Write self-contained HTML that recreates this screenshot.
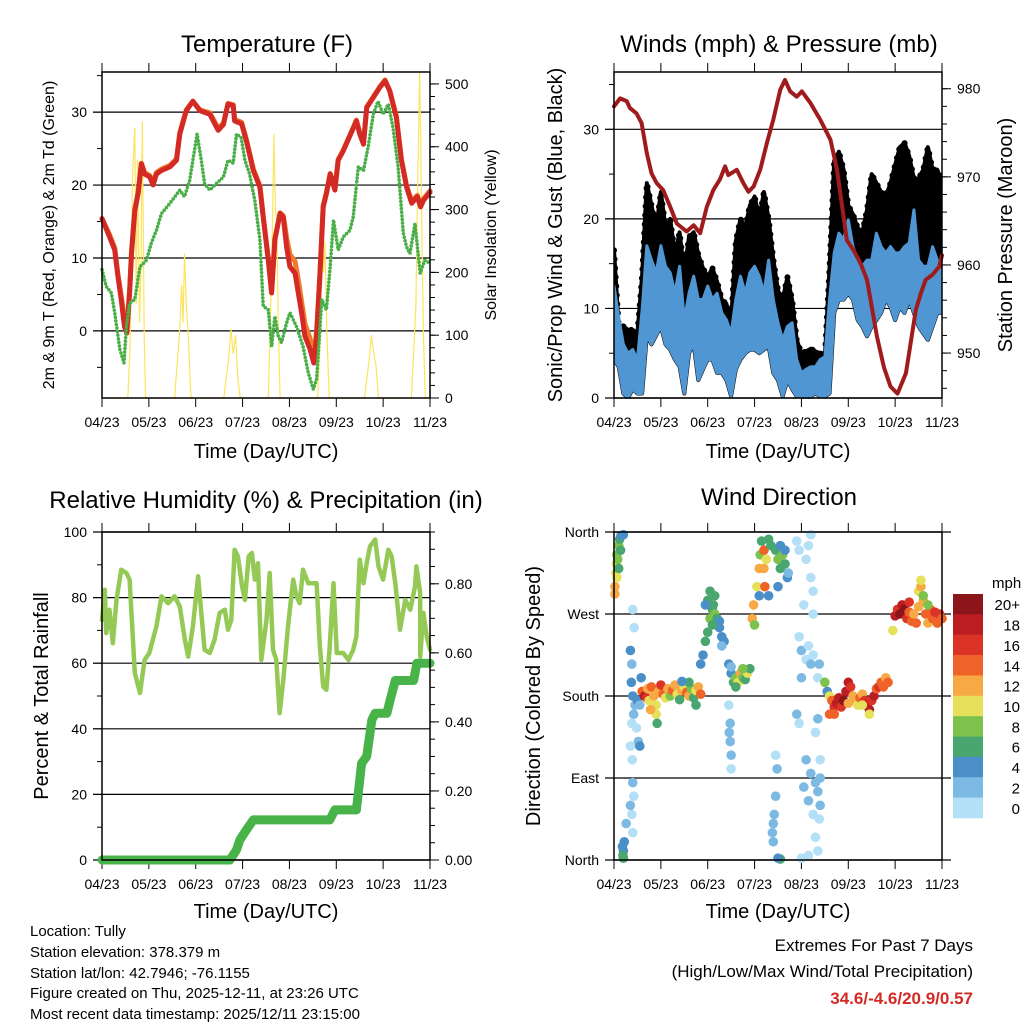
<!DOCTYPE html>
<html><head><meta charset="utf-8"><style>
html,body{margin:0;padding:0;background:#fff;}
svg{display:block;font-family:"Liberation Sans",Arial,sans-serif;}
</style></head><body>
<svg id="fig" width="1024" height="1024" viewBox="0 0 1024 1024" xmlns="http://www.w3.org/2000/svg">
<rect x="0" y="0" width="1024" height="1024" fill="#fff"/>
<g font-size="24" text-anchor="middle" fill="#000">
<text x="267" y="52">Temperature (F)</text>
<text x="779" y="52">Winds (mph) &amp; Pressure (mb)</text>
<text x="266" y="508">Relative Humidity (%) &amp; Precipitation (in)</text>
<text x="779" y="505">Wind Direction</text>
</g>
<g font-size="20" text-anchor="middle">
<text x="266" y="458">Time (Day/UTC)</text>
<text x="778" y="458">Time (Day/UTC)</text>
<text x="266" y="918">Time (Day/UTC)</text>
<text x="778" y="918">Time (Day/UTC)</text>
<text transform="translate(54,235) rotate(-90)" font-size="16">2m &amp; 9m T (Red, Orange) &amp; 2m Td (Green)</text>
<text transform="translate(496,235) rotate(-90)" font-size="16">Solar Insolation (Yellow)</text>
<text transform="translate(562,235) rotate(-90)">Sonic/Prop Wind &amp; Gust (Blue, Black)</text>
<text transform="translate(1012,235) rotate(-90)">Station Pressure (Maroon)</text>
<text transform="translate(48,696) rotate(-90)">Percent &amp; Total Rainfall</text>
<text transform="translate(540,696) rotate(-90)">Direction (Colored By Speed)</text>
</g>
<g font-size="15">
<text x="30" y="936">Location: Tully</text>
<text x="30" y="957">Station elevation: 378.379 m</text>
<text x="30" y="978">Station lat/lon: 42.7946; -76.1155</text>
<text x="30" y="998">Figure created on Thu, 2025-12-11, at 23:26 UTC</text>
<text x="30" y="1019">Most recent data timestamp: 2025/12/11 23:15:00</text>
</g>
<g font-size="17" text-anchor="end">
<text x="973" y="951">Extremes For Past 7 Days</text>
<text x="973" y="977">(High/Low/Max Wind/Total Precipitation)</text>
<text x="973" y="1004" fill="#d42a26" font-weight="bold">34.6/-4.6/20.9/0.57</text>
</g>
</svg>
<script>
// ---------- data ----------
const xTickLabels = ['04/23','05/23','06/23','07/23','08/23','09/23','10/23','11/23'];
const tempTimes = [0,0.16,0.27,0.34,0.41,0.48,0.53,0.59,0.63,0.7,0.77,0.84,0.91,1.02,1.09,1.16,1.27,1.45,1.59,1.66,1.8,1.94,2.09,2.3,2.48,2.59,2.69,2.8,2.83,2.98,3.08,3.23,3.37,3.44,3.55,3.62,3.69,3.8,3.87,3.94,4.01,4.12,4.19,4.26,4.33,4.44,4.52,4.58,4.65,4.72,4.79,4.87,4.97,5.04,5.15,5.37,5.43,5.5,5.58,5.65,5.79,5.93,6.04,6.14,6.21,6.28,6.39,6.5,6.61,6.73,6.8,6.86,7];
const tempRed = [15.4,12.9,11.1,7.5,4.3,0.6,-0.3,5.2,10.6,16.5,18.8,22.9,21.5,21.1,20,21.5,22,22.5,23.4,27,30.2,31.5,30.2,29.7,27.5,28.3,31.1,30.9,28.8,28.4,26.1,22,19.7,15.6,9.7,5.2,12.5,16.1,15.6,11.5,8.8,7.9,5.2,2.5,-0.7,-2.5,-4.4,-0.7,7.5,17,18.8,21.5,19.3,23.4,24.7,27.9,28.8,27,25.6,30.6,32,33.4,34.3,32.9,31.1,29.3,23.4,19.7,17.5,18.4,17,17.9,19];
const tempOrange = [15.4,13.2,11.4,7.8,4.8,1.5,0.3,5.5,10.8,16.7,19,23,21.7,21.3,20.3,21.7,22.2,22.7,23.6,27.2,30.3,31.5,30.3,29.9,27.8,28.5,31.2,31,29,28.6,26.3,22.2,19.9,15.8,9.9,5.5,12.7,16.2,15.8,12.8,10.5,9.5,7,4,1,-1,-3.5,0,7.8,17.2,19,21.6,19.5,23.5,24.8,28,28.9,27.2,25.8,30.7,32.1,33.5,34.4,33,31.2,29.5,23.6,19.9,17.8,18.6,17.3,18.1,19.2];
const dewTimes = [0,0.09,0.2,0.27,0.38,0.47,0.52,0.59,0.7,0.81,0.95,1.05,1.16,1.27,1.45,1.66,1.76,1.87,1.94,2.03,2.12,2.19,2.3,2.44,2.59,2.69,2.8,2.87,2.97,3.05,3.15,3.26,3.37,3.44,3.55,3.62,3.69,3.76,3.83,3.94,4.01,4.15,4.29,4.4,4.51,4.58,4.69,4.79,4.87,4.94,5.04,5.15,5.29,5.36,5.47,5.58,5.68,5.79,5.89,6.0,6.11,6.21,6.32,6.43,6.5,6.57,6.68,6.79,6.89,7];
const dewGreen = [8.4,6.1,5.2,2.5,-2.5,-4.4,0.6,3.8,4.3,8.8,9.7,12,13.8,16.1,17.5,19.3,18.4,20.6,23.4,27,23.4,20.2,19.3,20.2,21.1,23.4,23,27,26.5,23.4,21.5,17.9,12.5,3.4,2.9,-2.1,2,-0.7,-1.6,1.1,2.5,0.6,-2.1,-5.7,-8,-6.6,4.3,2.9,8.8,15.2,11.1,12.9,13.8,15.6,22.5,22,25.2,29.7,31.5,29.7,31.1,27.9,22.5,13.4,11.5,10.6,14.7,7.9,9.7,9.3];
const solarTimes = [0,0.55,0.6,0.65,0.7,0.73,0.76,0.8,0.83,0.86,0.9,0.93,1.55,1.65,1.7,1.73,1.76,1.8,1.84,1.9,2.6,2.7,2.75,2.8,2.85,2.9,2.95,3.55,3.62,3.67,3.7,3.73,3.76,3.8,4.6,4.66,4.7,4.73,4.76,4.8,4.85,5.6,5.7,5.75,5.8,5.85,5.9,6.6,6.65,6.7,6.75,6.78,6.82,6.86,6.9,7];
const solarVals = [0,0,80,350,430,150,380,120,200,440,100,0,0,100,180,120,230,150,100,0,0,60,110,70,100,30,0,0,200,420,300,280,120,0,0,100,300,200,250,100,0,0,60,100,70,50,0,0,70,150,400,520,300,100,0,0];

const pressTimes = [0,0.13,0.27,0.34,0.48,0.59,0.7,0.8,0.91,1.05,1.2,1.34,1.55,1.7,1.84,1.98,2.12,2.26,2.37,2.44,2.62,2.76,2.87,2.98,3.12,3.26,3.4,3.55,3.65,3.76,3.9,4.01,4.19,4.4,4.62,4.76,4.86,4.97,5.11,5.26,5.4,5.5,5.61,5.76,5.9,6.05,6.23,6.33,6.44,6.55,6.65,6.8,6.94,7.0];
const pressVals = [978,978.9,978.6,977.8,977.2,976.1,972.7,970.4,969.3,968.5,966.6,964.7,963.8,964.5,963.6,966.6,968.5,969.7,971.2,970.2,970.8,969.3,968.3,968.9,970.8,973.8,976.5,979.9,981,979.7,979.1,979.7,978.4,976.5,974.2,970.8,967,962.8,961.7,960.2,958.3,955.3,951.9,948.4,946.2,945.4,947.7,951.1,954.9,956.8,958.3,958.9,959.8,961.1];
const windTimes = [0,0.1,0.2,0.3,0.4,0.5,0.6,0.7,0.8,0.9,1.0,1.1,1.2,1.3,1.4,1.5,1.6,1.7,1.8,1.9,2.0,2.1,2.2,2.3,2.4,2.5,2.6,2.7,2.8,2.9,3.0,3.1,3.2,3.3,3.4,3.5,3.6,3.7,3.8,3.9,4.0,4.1,4.2,4.3,4.4,4.5,4.6,4.7,4.8,4.9,5.0,5.1,5.2,5.3,5.4,5.5,5.6,5.7,5.8,5.9,6.0,6.1,6.2,6.3,6.4,6.5,6.6,6.7,6.8,6.9,7.0];
const windHi = [12.5,9,6,5,5.4,4.3,9.8,17,15.4,14,17,14.7,14,11.7,14.7,8.7,11.7,13.6,11,11,12.5,11,11.7,9.5,8.7,7.2,11,13.6,11.7,14,14.7,13.6,11.7,15.4,11,8.4,6.5,8,8.4,4.3,2.8,3.2,3.5,3.5,4.3,4.6,11,16.2,18.4,17.7,19.9,16.9,15.4,14.7,15.4,15.4,18.4,16.9,16.2,16.9,16.2,16.2,16.9,17.3,21,15.4,14.7,14.7,16.9,15.4,13.6];
const windLo = [4.3,3.5,0.5,0,1,0.5,0.5,7,6,7,8,6,5.4,4.3,3.5,0.5,5,6,2,3.2,4.3,4.3,2.8,2.8,2,0.2,3.2,4.3,5,5.4,5.4,5,5.4,5.8,2.8,2,0.2,2,1,0.2,0.2,0,0.2,0.5,0.2,0.2,0.5,9.5,11,11,11.7,11,8.7,8,6.9,8,8.7,9.5,11,10.2,8.7,10.2,9.5,11,9.5,8,7.2,6.5,8,9.5,9.5];
const gustHi = [16.5,8,8,7.6,7.6,7.2,13.6,24,21.5,19,23,19,20,16,18.5,14,18,18.5,16,14.5,13.5,14.5,13,11,10.5,8.5,17.5,20,19,21.5,22.5,20,23,20,15.5,12,11,13.5,11,6.5,5,5.2,5.5,5.2,5,4.6,14.5,26.5,27.5,25.5,21.5,20.5,19,18.5,21,25,24,23,22.5,24,26,28,28.5,27,24.5,24.5,25.5,28,25.5,25.5,24];

const rhTimes = [0,0.06,0.09,0.16,0.23,0.31,0.41,0.52,0.59,0.7,0.81,0.91,1.01,1.16,1.27,1.41,1.55,1.66,1.77,1.84,1.94,2.05,2.12,2.19,2.3,2.4,2.51,2.62,2.69,2.76,2.83,2.9,2.99,3.05,3.13,3.2,3.26,3.33,3.4,3.51,3.58,3.65,3.72,3.79,3.87,3.97,4.08,4.15,4.22,4.29,4.4,4.58,4.65,4.72,4.79,4.86,4.94,5.01,5.15,5.26,5.36,5.43,5.5,5.58,5.65,5.72,5.83,5.9,6.0,6.11,6.18,6.26,6.36,6.47,6.58,6.68,6.71,6.79,6.79,6.86,6.93,7];
const rhVals = [73.2,82.4,69.2,76.3,66.1,79.3,88.5,87.5,85.5,57,50.9,61,63.1,71.2,80.4,78.3,80.4,77.3,67.1,62,71.2,86.5,75.3,64.1,63.1,67.1,75.3,76.3,70.2,73.2,94.6,92.6,83.4,79.3,92.6,93.6,85.5,90.5,61,73.2,87.5,64.1,61,44.8,54.9,71.2,85.5,80.4,78.3,88.5,84.4,84.4,65.1,52.9,51.9,65.1,84.4,63.1,63.1,61,64.1,68.2,91.6,84.4,90.5,95.6,97.7,89.5,85.5,94.6,92.6,84.4,70.2,79.3,76.3,83.4,89.5,81.4,62,75.3,68.2,64.1];
const precipTimes = [0,2.73,2.87,2.94,3.08,3.23,4.86,4.97,5.43,5.54,5.65,5.76,5.83,6.08,6.15,6.26,6.65,6.72,7.0];
const precipVals = [0,0,0.029,0.058,0.087,0.116,0.116,0.145,0.145,0.28,0.3,0.406,0.425,0.425,0.464,0.52,0.52,0.57,0.57];

const dirTimes = [0.02,0.02,0.04,0.05,0.06,0.1,0.12,0.15,0.2,0.08,0.1,0.14,0.06,
0.4,0.43,0.35,0.38,0.37,0.4,0.45,0.42,0.38,0.5,0.55,0.52,0.48,0.35,0.39,0.4,0.42,0.38,0.26,0.22,0.18,0.2,0.19,0.2,0.55,0.58,0.35,0.4,
0.6,0.65,0.7,0.72,0.75,0.8,0.85,0.9,0.9,0.95,1.0,1.05,1.1,1.15,1.2,1.25,1.3,1.35,1.4,1.45,1.5,1.55,1.6,1.65,1.7,1.75,1.8,1.85,1.75,1.6,0.92,1.45,0.78,
1.85,1.9,1.95,2.0,2.05,2.1,2.12,2.15,2.2,2.25,2.3,2.35,2.05,2.0,2.15,2.25,2.3,1.95,2.1,
2.45,2.5,2.55,2.6,2.65,2.7,2.75,2.8,2.85,2.9,2.6,2.75,2.5,2.45,2.48,2.48,2.5,2.5,2.46,
2.95,3.0,2.98,3.05,3.1,3.12,3.15,3.2,3.2,3.25,3.3,3.35,3.22,3.1,3.3,3.45,3.5,3.55,3.6,3.65,3.7,3.55,3.65,3.5,3.72,
3.45,3.48,3.45,3.42,3.4,3.38,3.4,3.55,3.5,3.9,3.95,4.2,4.15,4.2,4.25,4.1,4.05,4.25,4.0,3.95,4.1,4.15,4.2,4.0,4.25,4.38,4.35,4.1,4.2,4.05,4.3,4.35,4.15,4.4,4.25,4.38,4.3,4.35,4.15,4.0,4.4,4.4,3.9,3.95,4.3,4.35,
4.5,4.55,4.6,4.65,4.7,4.75,4.8,4.85,4.9,4.95,5.0,5.05,5.1,5.15,5.2,5.25,5.3,5.35,5.4,5.45,5.5,5.55,5.6,5.65,5.7,5.75,5.8,5.85,4.6,4.7,5.0,5.3,5.45,
6.0,6.05,6.1,6.15,6.2,6.25,6.3,6.35,6.4,6.45,6.5,6.5,6.55,6.6,6.65,6.7,6.75,6.8,6.85,6.9,6.95,7.0,6.6,6.7,5.95,6.3,6.55];
const dirDegrees = [300,292,315,325,335,345,352,356,357,330,320,340,310,
275,255,230,215,195,180,170,160,150,175,170,130,145,125,110,85,70,50,40,20,15,10,5,2,125,200,60,30,
185,180,178,188,175,190,180,170,160,185,192,182,178,188,180,186,192,182,176,186,190,184,180,188,178,186,190,182,170,195,150,196,165,
215,225,240,250,265,275,280,270,265,255,245,240,295,285,290,262,235,280,258,
215,205,195,200,195,205,200,198,205,210,190,210,212,170,150,130,115,100,140,
265,258,280,300,320,335,350,340,320,330,352,345,300,290,290,340,330,320,335,325,310,345,340,300,315,
115,100,70,50,40,30,20,1,2,350,340,357,345,310,295,330,280,270,230,245,220,235,215,200,225,215,200,110,95,80,85,75,65,60,50,45,25,10,5,2,110,90,160,150,140,155,
195,185,180,175,168,172,178,168,175,185,195,190,180,175,170,178,182,175,170,165,175,180,188,190,195,190,200,195,160,160,172,170,160,
268,275,270,280,275,265,272,262,270,260,278,295,300,285,270,260,275,265,272,260,270,265,290,280,252,283,307];
const dirSpeeds = [12,13,10,11,9,8,6,4,4,8,7,6,10,
1,1,4,3,4,4,3,2,1,4,3,2,1,1,1,2,1,1,3,4,4,4,6,6,4,4,2,1,
14,18,16,12,10,14,12,10,10,12,16,14,10,12,8,14,12,10,6,12,10,14,12,8,6,10,12,14,6,6,7,5,12,
4,4,6,6,8,7,7,8,6,5,4,4,6,6,6,4,3,5,6,
4,4,6,8,10,12,8,6,10,6,6,8,3,1,2,2,2,1,2,
12,8,12,10,12,8,6,14,12,10,6,6,14,4,4,6,8,6,8,6,4,4,4,4,2,
1,3,2,2,2,2,2,6,4,1,1,1,1,1,1,1,1,1,2,1,1,1,2,2,1,2,1,2,3,3,3,2,2,2,1,1,1,1,1,1,1,3,2,1,1,2,
8,4,10,14,16,18,18,16,20,18,18,16,12,12,10,14,12,16,18,18,16,18,14,16,14,14,12,14,14,14,12,10,10,
18,16,20,18,20,16,14,14,12,14,12,10,12,12,14,12,14,14,16,14,16,14,8,8,10,16,10];
const speedBinLabels = ['20+','18','16','14','12','10','8','6','4','2','0'];
const speedColors = ['#b3e0f6','#7cb9e3','#4a8fc8','#49a66e','#7cc24c','#e6e05a','#f6a944','#ef6328','#dc3327','#bb1d23','#8c1519'];

// ---------- helpers ----------
const NS = 'http://www.w3.org/2000/svg';
const svg = document.getElementById('fig');
function mk(tag, attrs, parent) {
  const e = document.createElementNS(NS, tag);
  for (const k in attrs) e.setAttribute(k, attrs[k]);
  (parent || svg).appendChild(e);
  return e;
}
function scaleLin(d0, d1, r0, r1) { return v => r0 + (v - d0) / (d1 - d0) * (r1 - r0); }
const P = {
  tl: {x0:102,x1:430,y0:72,y1:398},
  tr: {x0:614,x1:942,y0:72,y1:398},
  bl: {x0:102,x1:430,y0:532,y1:860},
  br: {x0:614,x1:942,y0:532,y1:860}
};
function xs(p) { return scaleLin(0, 7, p.x0, p.x1); }
function pathFrom(ts, vs, sx, sy) {
  let d = '';
  for (let i = 0; i < ts.length; i++) d += (i ? 'L' : 'M') + sx(ts[i]).toFixed(1) + ',' + sy(vs[i]).toFixed(1);
  return d;
}
function clip(id, p) {
  const c = mk('clipPath', {id: id});
  mk('rect', {x:p.x0, y:p.y0 - 1, width:p.x1 - p.x0, height:p.y1 - p.y0 + 2}, c);
  return 'url(#' + id + ')';
}

function frame(p, name, leftTicks, leftLabels, sy, leftMinor, rightTicks, rightLabels, sy2, rightMinor, grid) {
  const g = mk('g', {});
  
  
  const sx = xs(p);
  if (grid) leftTicks.forEach(v => {
    const y = sy(v);
    const l = mk('line', {x1:p.x0 - 9, x2:p.x1 + (grid === 'wide' ? 9 : 0), y1:y, y2:y, stroke:'#000', 'stroke-width':1.2}, g);
    
    
  });
  for (let i = 0; i < 8; i++) {
    const x = sx(i);
    mk('line', {x1:x, x2:x, y1:p.y0 - 9, y2:p.y0, stroke:'#000', 'stroke-width':1}, g);
    mk('line', {x1:x, x2:x, y1:p.y1, y2:p.y1 + 9, stroke:'#000', 'stroke-width':1}, g);
    const t = mk('text', {x:x, y:p.y1 + 29, 'font-size':14, 'text-anchor':'middle'}, g);
    t.textContent = xTickLabels[i];
    
    
  }
  leftTicks.forEach((v, i) => {
    const y = sy(v);
    mk('line', {x1:p.x0 - 9, x2:p.x0, y1:y, y2:y, stroke:'#000', 'stroke-width':1}, g);
    const t = mk('text', {x:p.x0 - 15, y:y + 5, 'font-size':14, 'text-anchor':'end'}, g);
    t.textContent = leftLabels[i];
    
    
  });
  (leftMinor || []).forEach(v => { const y = sy(v); mk('line', {x1:p.x0 - 5, x2:p.x0, y1:y, y2:y, stroke:'#000', 'stroke-width':1}, g); });
  if (rightTicks) {
    rightTicks.forEach((v, i) => {
      const y = sy2(v);
      mk('line', {x1:p.x1, x2:p.x1 + 9, y1:y, y2:y, stroke:'#000', 'stroke-width':1}, g);
      const t = mk('text', {x:p.x1 + 15, y:y + 5, 'font-size':14, 'text-anchor':'start'}, g);
      t.textContent = rightLabels[i];
      
      
    });
    (rightMinor || []).forEach(v => { const y = sy2(v); mk('line', {x1:p.x1, x2:p.x1 + 5, y1:y, y2:y, stroke:'#000', 'stroke-width':1}, g); });
  }
  return g;
}
function box(p, name) {
  const r = mk('rect', {x:p.x0, y:p.y0, width:p.x1 - p.x0, height:p.y1 - p.y0, fill:'none', stroke:'#000', 'stroke-width':1.5});
  
  
}
function range(a, b, s) { const r = []; for (let v = a; v <= b + 1e-9; v += s) r.push(+v.toFixed(4)); return r; }

// ---------- Temperature panel ----------
(function () {
  const p = P.tl, sx = xs(p);
  const sy = scaleLin(-9.2, 35.5, p.y1, p.y0);
  const sy2 = scaleLin(0, 519, p.y1, p.y0);
  frame(p, 'temperature', [0,10,20,30], ['0','10','20','30'], sy, [-5,5,15,25,35],
        [0,100,200,300,400,500], ['0','100','200','300','400','500'], sy2, range(20,500,20), true);
  const cp = clip('cTL', p);
  const s = mk('path', {d:pathFrom(solarTimes, solarVals, sx, sy2), fill:'none', stroke:'#fde45c', 'stroke-width':1.2, 'clip-path':cp});
  
  
  const o = mk('path', {d:pathFrom(tempTimes, tempOrange, sx, sy), fill:'none', stroke:'#f07b2a', 'stroke-width':5, 'stroke-linejoin':'round', 'stroke-linecap':'round'});
  
  
  const r = mk('path', {d:pathFrom(tempTimes, tempRed, sx, sy), fill:'none', stroke:'#d42a26', 'stroke-width':5, 'stroke-linejoin':'round', 'stroke-linecap':'round'});
  
  
  const gd = mk('path', {d:pathFrom(dewTimes, dewGreen, sx, sy), fill:'none', stroke:'#4aaf48', 'stroke-width':3.6, 'stroke-linecap':'round', 'stroke-dasharray':'0 3.6'});
  
  
  box(p, 'temperature');
})();

// ---------- Winds panel ----------
(function () {
  const p = P.tr, sx = xs(p);
  const sy = scaleLin(0, 36.4, p.y1, p.y0);
  const sy2 = scaleLin(944.9, 981.9, p.y1, p.y0);
  frame(p, 'winds', [0,10,20,30], ['0','10','20','30'], sy, [5,15,25,35],
        [950,960,970,980], ['950','960','970','980'], sy2, range(946,980,2), true);
  const cp = clip('cTR', p);
  let d = pathFrom(windTimes, gustHi, sx, sy);
  for (let i = windTimes.length - 1; i >= 0; i--) d += 'L' + sx(windTimes[i]).toFixed(1) + ',' + sy(windLo[i]).toFixed(1);
  const gst = mk('path', {d:d + 'Z', fill:'#000', stroke:'#000', 'stroke-width':4, 'stroke-linejoin':'round', 'clip-path':cp});
  
  
  const edge = mk('path', {d:pathFrom(windTimes, gustHi, sx, sy), fill:'none', stroke:'#000', 'stroke-width':6, 'stroke-linecap':'round', 'stroke-dasharray':'0 9', 'clip-path':cp});
  
  
  let d2 = pathFrom(windTimes, windHi, sx, sy);
  for (let i = windTimes.length - 1; i >= 0; i--) d2 += 'L' + sx(windTimes[i]).toFixed(1) + ',' + sy(windLo[i]).toFixed(1);
  const wb = mk('path', {d:d2 + 'Z', fill:'#4f96d2', stroke:'#4f96d2', 'stroke-width':3, 'stroke-linejoin':'round', 'clip-path':cp});
  
  
  const pr = mk('path', {d:pathFrom(pressTimes, pressVals, sx, sy2), fill:'none', stroke:'#a01c1c', 'stroke-width':4, 'stroke-linejoin':'round', 'stroke-linecap':'round'});
  
  
  box(p, 'winds');
})();

// ---------- Humidity panel ----------
(function () {
  const p = P.bl, sx = xs(p);
  const sy = scaleLin(0, 100, p.y1, p.y0);
  const sy2 = scaleLin(0, 0.95, p.y1, p.y0);
  frame(p, 'humidity', [0,20,40,60,80,100], ['0','20','40','60','80','100'], sy, [10,30,50,70,90],
        [0,0.2,0.4,0.6,0.8], ['0.00','0.20','0.40','0.60','0.80'], sy2, range(0.05,0.95,0.05), true);
  const rh = mk('path', {d:pathFrom(rhTimes, rhVals, sx, sy), fill:'none', stroke:'#95c956', 'stroke-width':4.5, 'stroke-linejoin':'round', 'stroke-linecap':'round'});
  
  
  const pc = mk('path', {d:pathFrom(precipTimes, precipVals, sx, sy2), fill:'none', stroke:'#48b348', 'stroke-width':9, 'stroke-linejoin':'round', 'stroke-linecap':'round'});
  
  
  box(p, 'humidity');
})();

// ---------- Wind direction panel ----------
(function () {
  const p = P.br, sx = xs(p);
  const sy = scaleLin(0, 360, p.y1, p.y0);
  frame(p, 'direction', [0,90,180,270,360], ['North','East','South','West','North'], sy, [], null, null, null, null, 'wide');
  const g = mk('g', {});
  
  
  for (let i = 0; i < dirTimes.length; i++) {
    const bin = Math.min(10, Math.floor(dirSpeeds[i] / 2));
    const c = mk('circle', {cx:sx(dirTimes[i]), cy:sy(dirDegrees[i]), r:4.8, fill:speedColors[bin]}, g);
    
    
  }
  box(p, 'direction');
  const cb = mk('g', {});
  
  
  const h = 224 / 11;
  for (let i = 0; i < 11; i++) {
    const y = 594 + i * h;
    const r = mk('rect', {x:953, y:y, width:30, height:h + 0.3, fill:speedColors[10 - i]}, cb);
    
    
    const t = mk('text', {x:1020, y:y + h / 2 + 6, 'font-size':15, 'text-anchor':'end'}, cb);
    t.textContent = speedBinLabels[i];
    
    
  }
  const u = mk('text', {x:992, y:588, 'font-size':15}, cb);
  u.textContent = 'mph';
  
  
})();
</script>
</body></html>
